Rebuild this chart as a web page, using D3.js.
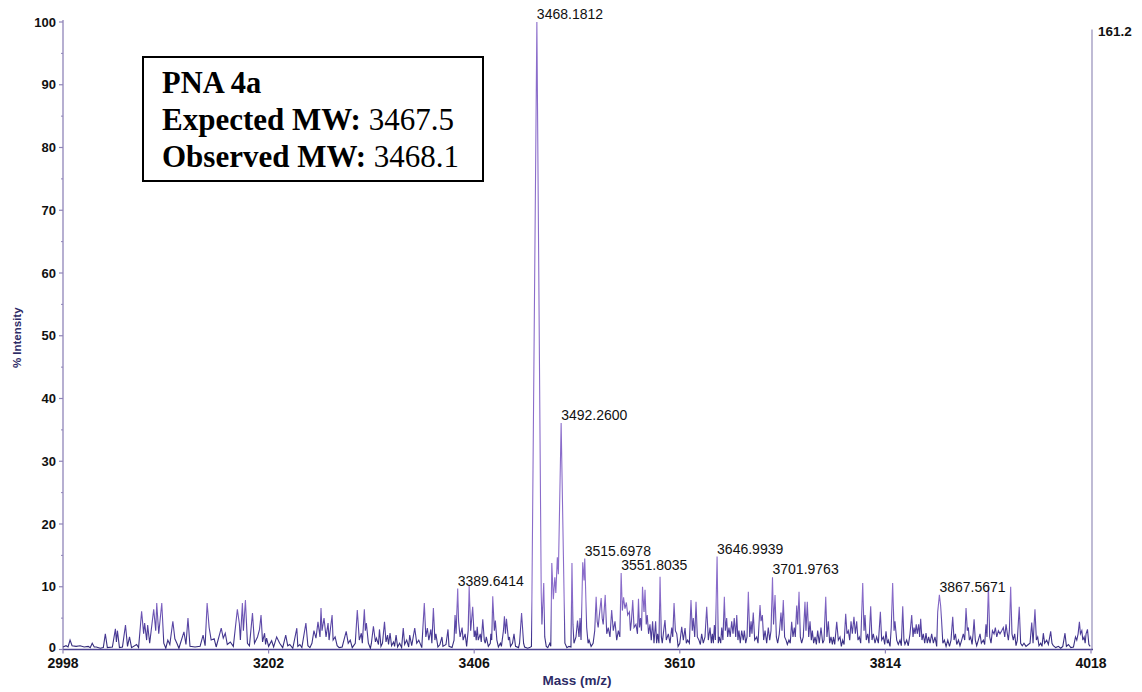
<!DOCTYPE html>
<html>
<head>
<meta charset="utf-8">
<script src="https://cdn.jsdelivr.net/npm/d3@7"></script>
<style>
  html, body { margin: 0; padding: 0; background: #fff; }
  svg { display: block; }
</style>
</head>
<body>
<svg id="chart" width="1142" height="692"></svg>
<script>
// Mass spectrum trace: [m/z, % intensity]
const spectrum = [
[2998,0.4],[3001,0.6],[3003,0.4],[3005,1.5],[3007,0.6],[3011,0.5],[3015,0.6],[3019,0.4],[3023,0.5],[3025,0.3],[3027,1.0],[3029,0.4],[3031,0.4],[3035,0.2],[3038,0.3],[3040,2.5],[3042,0.3],[3047,0.4],[3050,3.3],[3051,1.2],[3052,3.0],[3054,0.3],[3057,0.4],[3060,3.9],[3062,0.5],[3064,2.0],[3066,0.3],[3071,0.8],[3073,0.3],[3076,6.1],[3078,2.5],[3079,4.2],[3081,1.5],[3082,3.9],[3084,1.0],[3088,6.4],[3090,3.0],[3091,7.4],[3093,2.5],[3096,7.4],[3098,1.0],[3100,0.2],[3102,1.5],[3104,0.8],[3107,4.5],[3109,1.7],[3111,1.0],[3113,0.2],[3118,2.8],[3120,0.8],[3122,5.0],[3124,0.5],[3129,0.4],[3134,0.5],[3137,2.3],[3139,0.6],[3141,7.4],[3143,3.5],[3145,1.5],[3148,1.7],[3150,0.4],[3155,3.4],[3157,1.8],[3159,2.6],[3161,0.8],[3164,1.2],[3167,0.5],[3171,6.4],[3173,4.1],[3174,1.5],[3176,7.4],[3177,3.0],[3179,7.9],[3181,1.0],[3183,0.6],[3186,5.8],[3188,1.0],[3191,2.0],[3193,3.2],[3194.5,5.5],[3196,1.2],[3198,2.6],[3199,0.8],
[3200,1.8],[3202,0.5],[3205,1.4],[3207,0.4],[3210,2.0],[3213,1.0],[3216,0.3],[3219,2.3],[3221,0.6],[3223,0.8],[3226,0.2],[3230,3.4],[3231,0.5],[3233,0.8],[3235,0.3],[3239,4.2],[3241,0.6],[3243,0.3],[3245,1.0],[3247,3.0],[3249,1.8],[3251,4.4],[3253,2.0],[3254,6.6],[3255,3.0],[3257,5.0],[3259,2.0],[3261,4.2],[3262,1.5],[3265,5.5],[3266,1.5],[3268,2.0],[3270,0.6],[3272,0.3],[3275,0.4],[3279,2.9],[3281,1.0],[3283,1.5],[3285,0.3],[3288,1.0],[3290,6.3],[3292,1.5],[3294,2.6],[3295,1.0],[3297,6.4],[3298,3.0],[3299,4.2],[3301,1.0],[3303,0.2],[3304,1.0],[3306,3.7],[3308,1.2],[3309,1.8],[3311,0.8],[3312,3.2],[3313.5,0.5],[3315,1.0],[3317,4.4],[3318.5,1.2],[3320,2.3],[3321,0.8],[3322.5,2.6],[3324,0.6],[3326,1.2],[3327,0.5],[3328.5,2.3],[3330,0.4],[3332,1.0],[3334,0.3],[3335.6,3.4],[3337,0.8],[3339,1.5],[3341,0.4],[3342,2.3],[3344,0.6],[3347,3.4],[3349,1.0],[3351,1.5],[3354,0.3],[3356.5,7.4],[3358,2.0],[3359.5,3.4],[3361,1.5],[3363,3.2],[3364,1.0],[3365.5,6.6],[3367,1.5],[3368,2.5],[3370,0.4],[3372,0.8],[3374,2.0],[3375,0.5],[3378,0.8],[3380,3.2],[3381,0.5],[3384,0.3],[3386,1.5],[3387,5.5],[3388,2.5],[3389.6414,9.7],[3390.5,4.5],[3392,2.0],[3394,3.5],[3395,1.5],[3397,2.5],[3398.5,0.5],[3400,3.0],[3401,10.2],[3402.5,3.0],[3404.5,6.8],
[3406,2.0],[3407,3.0],[3408,1.5],[3409,3.6],[3410,1.5],[3412,2.5],[3413,1.2],[3414.5,4.8],[3416,1.5],[3417,1.0],[3418,2.0],[3420,0.5],[3422,1.0],[3422.5,2.5],[3423.4,1.5],[3424.4,8.5],[3426,3.0],[3427,4.6],[3428.5,1.5],[3430,0.4],[3432,1.0],[3433,0.5],[3435,3.0],[3436,5.3],[3437,2.5],[3438,4.9],[3440,1.5],[3441,2.0],[3442,0.5],[3444,1.0],[3445.5,2.5],[3447,0.5],[3450,0.3],[3451,1.0],[3453,5.8],[3455,1.0],[3456,0.4],[3459,0.2],[3461,0.3],[3462.8,0.5],[3463.3,9.0],[3468.1812,100],[3472.5,9.0],[3473.2,4.0],[3475,10.6],[3476,2.0],[3477.5,0.5],[3479,0.3],[3481,1.0],[3482,0.5],[3483,13.8],[3484.5,8.0],[3486,11.5],[3487,9.0],[3488.5,14.7],[3489.5,12.0],[3492.26,36.1],[3494.5,15.0],[3496,1.0],[3498,0.3],[3500,0.5],[3502,0.4],[3503,13.8],[3504,4.0],[3505,1.0],[3507,2.0],[3508.5,4.6],[3510,2.0],[3511,5.0],[3512,1.5],[3513.7,13.9],[3515,11.0],[3515.6978,14.5],[3517.6,3.5],[3519,1.0],[3520,1.5],[3522,0.5],[3524,1.0],[3525.6,3.0],[3527,8.4],[3528,4.5],[3529,3.5],[3530.5,6.0],[3532,8.2],[3533,5.0],[3534,4.0],[3536,8.7],[3537.5,2.5],[3539,3.5],[3540.7,2.0],[3542.4,6.3],[3544,3.0],[3545.7,4.5],[3547.4,1.5],[3549,3.0],[3550.5,2.0],[3551.8035,12.2],[3553,6.2],[3554.2,8.3],[3555.6,6.5],[3557,7.5],[3558.3,5.5],[3560,6.0],[3561,3.0],[3562,4.5],[3563.3,7.9],[3564.6,3.5],[3566.5,4.0],[3568,2.5],[3569,8.1],[3570,3.5],[3571,5.0],[3572,3.0],[3573,10.0],[3574.5,6.0],[3575.5,9.5],[3576.7,4.0],[3577.7,5.5],[3579,2.5],[3580.4,4.0],[3581.7,1.5],[3583,4.5],[3584.4,1.0],[3586,4.5],[3587,1.0],[3588,2.5],[3589.3,1.0],[3590.4,11.6],[3591.7,2.0],[3592.6,1.0],[3594,3.0],[3595.3,4.7],[3596.6,1.5],[3598.6,2.5],[3600.3,1.0],[3602,3.5],[3603,2.0],[3604.3,7.4],[3605.6,3.0],[3607,2.5],[3608.3,0.5],
[3610,1.0],[3611.9,3.6],[3613.5,1.5],[3615.2,3.4],[3616.5,1.0],[3617.8,1.5],[3619.5,1.0],[3621.1,7.9],[3622.4,3.0],[3623.4,5.0],[3624.8,2.0],[3626.1,7.6],[3627.4,2.0],[3629,1.5],[3630.4,0.8],[3631.7,2.5],[3633.3,1.0],[3635,2.0],[3636.7,6.8],[3638.3,1.5],[3640,3.5],[3641.3,1.0],[3642.3,2.5],[3643.3,1.0],[3644.3,3.9],[3645.3,1.5],[3646.9939,14.8],[3648.2,1.0],[3649.2,2.0],[3650.6,1.0],[3651.6,3.5],[3652.8,1.5],[3654.2,8.4],[3655.2,3.0],[3656.5,5.0],[3657.5,2.0],[3658.8,3.5],[3660,2.0],[3661.5,4.5],[3662.8,2.5],[3664,5.0],[3665.5,2.0],[3666.5,5.5],[3667.7,1.5],[3668.7,3.0],[3670,1.0],[3671.4,3.0],[3673,1.5],[3674,3.0],[3675.4,1.0],[3676.7,2.0],[3678,9.2],[3679.4,2.0],[3680.7,4.5],[3681.6,2.5],[3682.9,5.9],[3684.3,1.5],[3686.3,2.0],[3687.6,1.0],[3689.6,7.1],[3690.6,4.5],[3691.9,5.5],[3693.2,1.5],[3694.6,3.0],[3696.2,1.0],[3697.8,3.5],[3699.2,1.5],[3700.5,3.0],[3701.9763,11.5],[3703,4.0],[3704.5,8.7],[3705.8,2.0],[3707.1,1.0],[3708.7,2.5],[3710.4,5.9],[3711.4,3.0],[3712.7,7.9],[3714,2.0],[3715.4,1.5],[3716.7,0.8],[3718.3,1.5],[3719.6,1.0],[3721,4.4],[3722.3,2.0],[3723.6,3.5],[3724.6,2.0],[3726,7.0],[3727,4.0],[3728.3,9.2],[3729.6,2.0],[3730.9,1.0],[3732.5,2.0],[3734.2,7.6],[3735.2,3.0],[3736.5,7.6],[3737.9,2.0],[3739.2,4.5],[3740.5,1.5],[3741.5,3.0],[3742.8,1.0],[3744.2,2.0],[3745.5,0.8],[3746.8,3.0],[3748.4,1.0],[3750.1,3.5],[3751.8,1.0],[3753.1,1.5],[3754.8,8.4],[3756,2.0],[3757.4,4.5],[3758.7,1.0],[3760,2.0],[3761.4,0.8],[3762.4,2.0],[3763.7,0.8],[3765.7,4.4],[3767.3,1.5],[3769,2.0],[3770.3,0.5],[3771.6,1.5],[3773,0.8],[3774.6,5.7],[3775.9,2.5],[3777.2,3.0],[3778.6,1.5],[3779.9,4.5],[3781.2,2.5],[3782.8,5.2],[3784.2,2.5],[3785.5,4.5],[3786.8,1.5],[3788.1,2.0],[3789.5,1.0],[3791.5,10.6],[3792.8,3.0],[3793.8,5.5],[3795,1.5],[3796.4,2.5],[3797.7,1.0],[3799.4,6.9],[3800.7,1.5],[3802,2.5],[3803.7,1.0],[3805.3,2.0],[3807,1.0],
[3809,6.0],[3810.3,1.5],[3812,2.0],[3813.3,0.8],[3814.6,2.9],[3815.9,1.0],[3816.9,1.5],[3818.6,0.5],[3819.8,3.5],[3821.2,10.6],[3822.6,3.0],[3823.5,4.5],[3825.2,1.5],[3826.8,0.8],[3828.5,1.5],[3829.8,0.6],[3831.2,6.9],[3832.4,1.5],[3833.4,0.8],[3835.1,1.5],[3836.7,0.6],[3838.4,2.5],[3840.1,5.5],[3841.4,2.0],[3842.4,3.5],[3843.4,2.5],[3844.6,4.0],[3845.6,2.5],[3847,4.0],[3848,2.0],[3849,4.9],[3850.3,1.5],[3851.6,2.5],[3853,1.0],[3854.3,2.6],[3855.6,1.0],[3856.9,2.0],[3858.3,1.0],[3859.9,2.5],[3861.6,1.0],[3863.2,2.0],[3864.9,0.5],[3865.9,6.0],[3867.5671,8.7],[3868.8,7.0],[3869.6,5.0],[3871,1.0],[3872.5,1.5],[3874.2,0.5],[3875.9,1.5],[3877.6,0.5],[3879.1,1.5],[3880.8,5.2],[3882.1,1.5],[3883.5,2.5],[3884.8,0.8],[3886.5,1.5],[3888,0.6],[3889.7,1.5],[3891.3,2.5],[3892.7,1.5],[3894,6.6],[3895.3,3.0],[3896.3,3.5],[3897.3,1.5],[3898.6,2.0],[3900,0.8],[3901,2.5],[3902,4.8],[3903.2,1.5],[3904.6,0.6],[3906.2,1.5],[3907.9,2.5],[3909.2,1.0],[3911.2,1.5],[3912.5,0.8],[3913.8,4.0],[3914.8,2.0],[3916.2,10.3],[3917.5,2.0],[3918.8,1.0],[3920.2,3.0],[3921.8,2.5],[3923.1,3.5],[3924.5,2.0],[3926.1,3.0],[3927.7,2.5],[3929.4,3.0],[3931,3.5],[3932.4,2.0],[3933.7,4.0],[3935,2.5],[3936,1.5],[3937,3.0],[3938.3,10.0],[3939.6,2.5],[3940.9,1.5],[3942.3,2.5],[3943.6,0.6],[3944.9,1.5],[3946.8,6.8],[3948.2,1.0],[3949.8,0.6],[3951.5,1.0],[3953.5,0.5],[3955.8,0.8],[3957.5,1.0],[3959.2,4.3],[3960.5,1.0],[3962.4,6.4],[3963.8,1.5],[3965.1,2.0],[3966.4,0.6],[3968.1,1.0],[3969.4,0.5],[3970.7,2.6],[3972,1.0],[3974,1.5],[3975.7,0.8],[3978,2.9],[3979.3,1.0],[3980.6,0.6],[3983,0.3],[3985.6,0.5],[3988,0.2],[3990,0.5],[3992.2,2.6],[3993.6,0.5],[3995.6,0.8],[3998,0.3],[4000.6,0.4],[4002.6,2.0],[4003.9,1.5],[4005.2,2.5],[4006.5,4.4],[4007.5,2.5],[4008.9,3.0],[4009.9,1.5],[4011.2,2.0],[4012.2,1.0],[4013.1,2.5],[4014.5,3.2],[4015.9,0.8],[4017.2,0.5]
];

// Annotated peaks (m/z); heights come from the trace above
const labelledPeaks = [3389.6414, 3468.1812, 3492.2600, 3515.6978, 3551.8035, 3646.9939, 3701.9763, 3867.5671];

const massTicks = [2998, 3202, 3406, 3610, 3814, 4018];
const intensityTicks = [0, 10, 20, 30, 40, 50, 60, 70, 80, 90, 100];
const intensityMinorTicks = [5, 15, 25, 35, 45, 55, 65, 75, 85, 95];
const massRange = [2998, 4018];
const absoluteMax = "161.2";

const infoTitle = "PNA 4a";
const infoRows = [["Expected MW:", " 3467.5"], ["Observed MW:", " 3468.1"]];

const svg = d3.select("#chart");
const x = d3.scaleLinear().domain(massRange).range([63, 1091]);
const y = d3.scaleLinear().domain([0, 100]).range([649.5, 22]);

const axisColor = "#8f84b8";
const labelFont = "'Liberation Sans', Arial, sans-serif";

// trace colour: dark navy along the baseline fading to violet on the peaks
const defs = svg.append("defs");
const grad = defs.append("linearGradient")
  .attr("id", "traceGrad").attr("gradientUnits", "userSpaceOnUse")
  .attr("x1", 0).attr("x2", 0).attr("y1", y(0)).attr("y2", y(8));
grad.append("stop").attr("offset", 0).attr("stop-color", "#2c2672");
grad.append("stop").attr("offset", 0.35).attr("stop-color", "#4e3d9c");
grad.append("stop").attr("offset", 1).attr("stop-color", "#8a6cca");

// right-hand full-scale line
svg.append("line")
  .attr("x1", x(massRange[1]) + 1).attr("x2", x(massRange[1]) + 1)
  .attr("y1", y(98.8)).attr("y2", y(0))
  .attr("stroke", "#9d96bf").attr("stroke-width", 1.3);

svg.append("text")
  .attr("x", 1098).attr("y", 36)
  .attr("font-family", labelFont).attr("font-weight", "bold").attr("font-size", 13.5)
  .attr("fill", "#111").text(absoluteMax);

// y axis
const yAxis = svg.append("g");
yAxis.append("line")
  .attr("x1", x(massRange[0])).attr("x2", x(massRange[0]))
  .attr("y1", y(100) - 2).attr("y2", y(0))
  .attr("stroke", axisColor).attr("stroke-width", 1.3);
yAxis.selectAll("line.major").data(intensityTicks).join("line")
  .attr("class", "major")
  .attr("x1", x(massRange[0]) - 4).attr("x2", x(massRange[0]))
  .attr("y1", d => y(d)).attr("y2", d => y(d))
  .attr("stroke", axisColor).attr("stroke-width", 1.2);
yAxis.selectAll("line.minor").data(intensityMinorTicks).join("line")
  .attr("class", "minor")
  .attr("x1", x(massRange[0]) - 2).attr("x2", x(massRange[0]))
  .attr("y1", d => y(d)).attr("y2", d => y(d))
  .attr("stroke", axisColor).attr("stroke-width", 1);
yAxis.selectAll("text").data(intensityTicks).join("text")
  .attr("x", x(massRange[0]) - 7).attr("y", d => y(d))
  .attr("dy", d => d === 0 ? "0.2em" : "0.36em").attr("text-anchor", "end")
  .attr("font-family", labelFont).attr("font-weight", "bold").attr("font-size", 13)
  .attr("fill", "#111").text(d => d);

svg.append("text")
  .attr("transform", `translate(21,${y(50) + 2}) rotate(-90)`)
  .attr("text-anchor", "middle")
  .attr("font-family", labelFont).attr("font-weight", "bold").attr("font-size", 11.5)
  .attr("fill", "#2d2b66").text("% Intensity");

// spectrum trace
const line = d3.line().x(d => x(d[0])).y(d => y(d[1]));
svg.append("path")
  .datum(spectrum)
  .attr("d", line)
  .attr("fill", "none")
  .attr("stroke", "url(#traceGrad)")
  .attr("stroke-width", 1.1)
  .attr("stroke-linejoin", "miter");

// x axis
const xAxis = svg.append("g");
xAxis.append("line")
  .attr("x1", x(massRange[0])).attr("x2", x(massRange[1]) + 2)
  .attr("y1", y(0)).attr("y2", y(0))
  .attr("stroke", "#4c4290").attr("stroke-width", 1.4);
xAxis.selectAll("line.tick").data(massTicks).join("line")
  .attr("class", "tick")
  .attr("x1", d => x(d)).attr("x2", d => x(d))
  .attr("y1", y(0)).attr("y2", y(0) + 4)
  .attr("stroke", axisColor).attr("stroke-width", 1.2);
xAxis.selectAll("text").data(massTicks).join("text")
  .attr("x", d => x(d)).attr("y", 668)
  .attr("text-anchor", "middle")
  .attr("font-family", labelFont).attr("font-weight", "bold").attr("font-size", 14)
  .attr("fill", "#111").text(d => d);

svg.append("text")
  .attr("x", 577).attr("y", 685)
  .attr("text-anchor", "middle")
  .attr("font-family", labelFont).attr("font-weight", "bold").attr("font-size", 13.5)
  .attr("fill", "#2d2b66").text("Mass (m/z)");

// peak annotations
const peakHeight = m => (spectrum.find(d => Math.abs(d[0] - m) < 0.01) || [m, 0])[1];
svg.selectAll("text.peak").data(labelledPeaks).join("text")
  .attr("class", "peak")
  .attr("x", d => x(d)).attr("y", d => y(peakHeight(d)) - 3)
  .attr("font-family", labelFont).attr("font-size", 14)
  .attr("fill", "#111").text(d => d.toFixed(4));

// info box
const box = svg.append("g").attr("transform", "translate(143,57)");
box.append("rect")
  .attr("width", 340).attr("height", 124)
  .attr("fill", "#fff").attr("stroke", "#000").attr("stroke-width", 2);
const serif = "'Liberation Serif', 'Times New Roman', serif";
box.append("text")
  .attr("x", 19).attr("y", 36)
  .attr("font-family", serif).attr("font-weight", "bold").attr("font-size", 30.5)
  .attr("fill", "#000").text(infoTitle);
infoRows.forEach((row, i) => {
  const t = box.append("text")
    .attr("x", 19).attr("y", 73 + i * 37)
    .attr("font-family", serif).attr("font-size", 31).attr("fill", "#000");
  t.append("tspan").attr("font-weight", "bold").text(row[0]);
  t.append("tspan").attr("font-weight", "normal").text(row[1]);
});
</script>
</body>
</html>
